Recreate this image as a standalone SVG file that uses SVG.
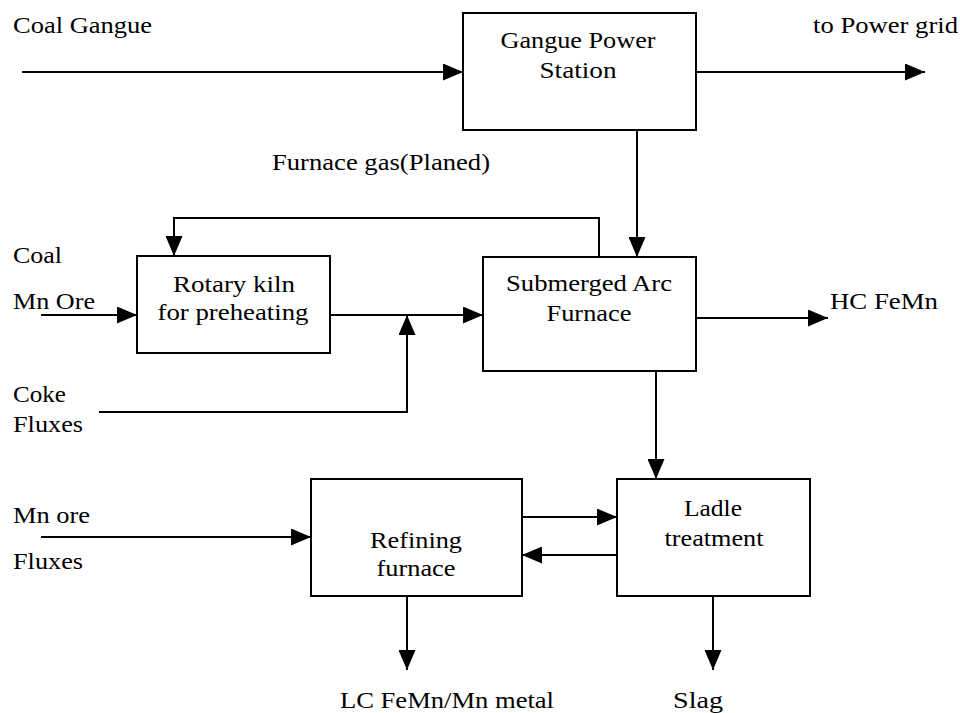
<svg xmlns="http://www.w3.org/2000/svg" width="960" height="713" viewBox="0 0 960 713">
<style>
.box{fill:#fff;stroke:#000;stroke-width:2}
.ar{fill:none;stroke:#000;stroke-width:2;marker-end:url(#ah)}
.t{font-family:'Liberation Serif','DejaVu Serif','Times New Roman',serif;font-size:24px;fill:#000}
.c{text-anchor:middle}
</style>
<defs>
<marker id="ah" markerWidth="20" markerHeight="17" refX="20" refY="8.5" orient="auto" markerUnits="userSpaceOnUse">
<path d="M0,0 L20,8.5 L0,17 Z" fill="#000"/>
</marker>
</defs>
<rect width="960" height="713" fill="#fff"/>
<g id="connectors">
<path class="ar" d="M22,72 H463"/>
<path class="ar" d="M696,72 H925"/>
<path class="ar" d="M637,130 V257"/>
<path class="ar" d="M599,257 V218 H174 V256"/>
<path class="ar" d="M41,315 H137"/>
<path class="ar" d="M330,315 H483"/>
<path class="ar" d="M99,412 H407 V315"/>
<path class="ar" d="M696,318 H828"/>
<path class="ar" d="M656,371 V479"/>
<path class="ar" d="M41,537 H311"/>
<path class="ar" d="M522,517 H617"/>
<path class="ar" d="M617,555 H522"/>
<path class="ar" d="M407,596 V670"/>
<path class="ar" d="M713,596 V670"/>
</g>
<g id="gangue-power-station" class="t" font-family="Liberation Serif, DejaVu Serif, serif">
<rect class="box" x="463" y="13" width="233" height="117"/>
<text class="c" x="578" y="48" textLength="155" lengthAdjust="spacingAndGlyphs">Gangue Power</text>
<text class="c" x="578" y="78" textLength="77" lengthAdjust="spacingAndGlyphs">Station</text>
</g>
<g id="rotary-kiln" class="t" font-family="Liberation Serif, DejaVu Serif, serif">
<rect class="box" x="137" y="256" width="193" height="97"/>
<text class="c" x="234" y="292" textLength="122" lengthAdjust="spacingAndGlyphs">Rotary kiln</text>
<text class="c" x="233" y="320" textLength="151" lengthAdjust="spacingAndGlyphs">for preheating</text>
</g>
<g id="submerged-arc-furnace" class="t" font-family="Liberation Serif, DejaVu Serif, serif">
<rect class="box" x="483" y="257" width="213" height="114"/>
<text class="c" x="589" y="291" textLength="166" lengthAdjust="spacingAndGlyphs">Submerged Arc</text>
<text class="c" x="589" y="321" textLength="85" lengthAdjust="spacingAndGlyphs">Furnace</text>
</g>
<g id="refining-furnace" class="t" font-family="Liberation Serif, DejaVu Serif, serif">
<rect class="box" x="311" y="479" width="211" height="117"/>
<text class="c" x="416" y="548" textLength="92" lengthAdjust="spacingAndGlyphs">Refining</text>
<text class="c" x="416" y="576" textLength="79" lengthAdjust="spacingAndGlyphs">furnace</text>
</g>
<g id="ladle-treatment" class="t" font-family="Liberation Serif, DejaVu Serif, serif">
<rect class="box" x="617" y="479" width="193" height="117"/>
<text class="c" x="713" y="516" textLength="58" lengthAdjust="spacingAndGlyphs">Ladle</text>
<text class="c" x="714" y="546" textLength="99" lengthAdjust="spacingAndGlyphs">treatment</text>
</g>
<g id="labels" class="t" font-family="Liberation Serif, DejaVu Serif, serif">
<text x="13" y="33" textLength="139" lengthAdjust="spacingAndGlyphs">Coal Gangue</text>
<text x="813" y="33" textLength="145" lengthAdjust="spacingAndGlyphs">to Power grid</text>
<text x="272" y="170" textLength="218" lengthAdjust="spacingAndGlyphs">Furnace gas(Planed)</text>
<text x="13" y="263" textLength="49" lengthAdjust="spacingAndGlyphs">Coal</text>
<text x="13" y="309" textLength="82" lengthAdjust="spacingAndGlyphs">Mn Ore</text>
<text x="13" y="402" textLength="53" lengthAdjust="spacingAndGlyphs">Coke</text>
<text x="13" y="432" textLength="70" lengthAdjust="spacingAndGlyphs">Fluxes</text>
<text x="830" y="309" textLength="108" lengthAdjust="spacingAndGlyphs">HC FeMn</text>
<text x="13" y="523" textLength="77" lengthAdjust="spacingAndGlyphs">Mn ore</text>
<text x="13" y="569" textLength="70" lengthAdjust="spacingAndGlyphs">Fluxes</text>
<text x="340" y="708" textLength="214" lengthAdjust="spacingAndGlyphs">LC FeMn/Mn metal</text>
<text x="673" y="708" textLength="50" lengthAdjust="spacingAndGlyphs">Slag</text>
</g>
</svg>
